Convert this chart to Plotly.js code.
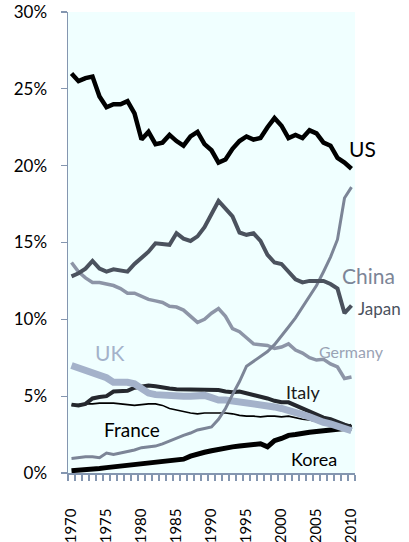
<!DOCTYPE html>
<html>
<head>
<meta charset="utf-8">
<script src="https://cdn.plot.ly/plotly-3.0.1.min.js"></script>
<style>html,body{margin:0;padding:0;background:#fff;}#chart{width:409px;height:542px;}</style>
</head>
<body>
<div id="chart"></div>
<script>
const years = [1970,1971,1972,1973,1974,1975,1976,1977,1978,1979,1980,1981,1982,1983,1984,1985,1986,1987,1988,1989,1990,1991,1992,1993,1994,1995,1996,1997,1998,1999,2000,2001,2002,2003,2004,2005,2006,2007,2008,2009,2010];
const us = [26.0,25.5,25.7,25.8,24.5,23.8,24.0,24.0,24.2,23.4,21.7,22.2,21.4,21.5,22.0,21.6,21.3,21.9,22.2,21.4,21.0,20.2,20.4,21.1,21.6,21.9,21.7,21.8,22.5,23.1,22.6,21.8,22.0,21.8,22.3,22.1,21.5,21.3,20.5,20.2,19.8];
const japan = [12.8,13.0,13.3,13.8,13.3,13.1,13.25,13.15,13.1,13.6,14.0,14.4,14.95,14.9,14.85,15.6,15.25,15.1,15.4,16.0,16.9,17.7,17.2,16.7,15.65,15.5,15.6,15.1,14.2,13.7,13.6,13.1,12.6,12.4,12.5,12.5,12.5,12.3,12.0,10.4,10.9];
const germany = [13.7,13.1,12.7,12.4,12.4,12.3,12.2,12.0,11.7,11.7,11.5,11.3,11.2,11.1,10.85,10.8,10.6,10.2,9.8,10.0,10.4,10.7,10.2,9.4,9.2,8.8,8.4,8.35,8.3,8.1,8.2,8.4,8.0,7.8,7.5,7.35,7.4,7.1,6.9,6.15,6.25];
const china = [0.95,1.0,1.05,1.05,1.0,1.3,1.2,1.3,1.4,1.5,1.65,1.7,1.75,1.9,2.1,2.3,2.45,2.6,2.8,2.9,3.0,3.5,4.2,5.1,5.95,6.95,7.25,7.6,7.9,8.35,8.9,9.5,10.1,10.8,11.5,12.2,13.1,14.05,15.2,17.9,18.6];
const uk = [7.0,6.85,6.6,6.5,6.4,6.2,5.9,5.95,5.9,5.8,5.5,5.2,5.1,5.05,5.05,5.0,5.0,5.0,5.05,5.05,4.9,4.75,4.75,4.7,4.6,4.55,4.5,4.45,4.4,4.3,4.2,4.1,3.95,3.8,3.65,3.45,3.3,3.2,3.05,2.9,2.75];
const italy = [4.45,4.4,4.5,4.85,4.95,5.0,5.3,5.35,5.35,5.55,5.65,5.7,5.65,5.55,5.5,5.45,5.45,5.4,5.4,5.45,5.45,5.4,5.3,5.25,5.3,5.2,5.1,4.95,4.85,4.7,4.6,4.6,4.4,4.15,3.95,3.75,3.6,3.5,3.3,3.15,3.0];
const france = [4.4,4.45,4.5,4.5,4.55,4.55,4.55,4.5,4.45,4.4,4.45,4.5,4.5,4.4,4.2,4.1,4.0,3.9,3.85,3.9,3.9,3.9,3.9,3.85,3.75,3.7,3.7,3.65,3.7,3.7,3.65,3.7,3.6,3.5,3.45,3.35,3.25,3.1,3.0,2.9,2.8];
const korea = [0.15,0.17,0.2,0.25,0.3,0.35,0.4,0.45,0.5,0.6,0.6,0.63,0.7,0.75,0.8,0.85,0.9,1.1,1.25,1.35,1.45,1.55,1.6,1.7,1.75,1.8,1.9,1.9,1.7,2.1,2.25,2.45,2.5,2.6,2.65,2.7,2.75,2.8,2.85,2.9,3.05];
const yTicks = [0,5,10,15,20,25,30];
const xLabelYears = [1970,1975,1980,1985,1990,1995,2000,2005,2010];

const FONT = 'Lato, "Open Sans", sans-serif';
function line(y, color, width, name) {
  return {x: years, y: y, type: 'scatter', mode: 'lines', name: name,
    line: {color: color, width: width, shape: 'linear'}, hoverinfo: 'skip'};
}
const traces = [
  line(france, '#000000', 1.6, 'France'),
  line(korea, '#000000', 5, 'Korea'),
  line(italy, '#25282e', 4, 'Italy'),
  line(uk, '#a4b2ca', 7, 'UK'),
  line(germany, '#8d95a7', 3.5, 'Germany'),
  line(china, '#7c8597', 3, 'China'),
  line(japan, '#4b525e', 4, 'Japan'),
  line(us, '#000000', 4.5, 'US')
];
const boundaries = [years[0] - 0.5].concat(years.map(v => v + 0.5));
const ann = (x, y, text, size, color, xshift) => ({x: x, y: y, xref: 'x', yref: 'y', text: text,
  showarrow: false, xanchor: 'left', yanchor: 'middle', xshift: xshift || 0,
  font: {family: FONT, size: size, color: color}});
const layout = {
  width: 409, height: 542,
  margin: {l: 68, r: 54, t: 12, b: 69},
  paper_bgcolor: '#ffffff', plot_bgcolor: '#f0ffff',
  showlegend: false,
  font: {family: FONT, size: 17, color: '#000'},
  xaxis: {
    range: [1969.5, 2010.5], showgrid: false, zeroline: false,
    showline: true, linecolor: '#8496b0', linewidth: 1.5,
    tickmode: 'array', tickvals: xLabelYears, ticktext: xLabelYears.map(String),
    ticks: '', tickangle: -90, ticklabelstandoff: 28,
    tickfont: {family: FONT, size: 15, color: '#000'},
    minor: {tickmode: 'array', tickvals: boundaries, ticks: 'outside', ticklen: 6, tickcolor: '#8496b0', tickwidth: 1.2, showgrid: false}
  },
  yaxis: {
    range: [0, 30], showgrid: false, zeroline: false,
    showline: true, linecolor: '#8496b0', linewidth: 1.5,
    tickmode: 'array', tickvals: yTicks, ticktext: yTicks.map(v => v + '%'),
    ticks: 'outside', ticklen: 6, tickcolor: '#8496b0', tickwidth: 1.2,
    ticklabelstandoff: 10,
    tickfont: {family: FONT, size: 17, color: '#000'}
  },
  annotations: [
    ann(2009.3, 21.1, 'US', 21, '#000'),
    ann(2008.3, 12.85, 'China', 21, '#7c8597'),
    ann(2010.5, 10.7, 'Japan', 17, '#4b525e', 1),
    ann(2005.0, 7.9, 'Germany', 16, '#9aa3b5'),
    ann(2000.4, 5.3, 'Italy', 18, '#1a1a1a'),
    ann(1974.4, 2.8, 'France', 19, '#000'),
    ann(2001.1, 0.9, 'Korea', 18, '#000'),
    ann(1973.0, 7.85, 'UK', 21, '#a4b2ca')
  ]
};
Plotly.newPlot('chart', traces, layout, {displayModeBar: false, staticPlot: true});
</script>
</body>
</html>
